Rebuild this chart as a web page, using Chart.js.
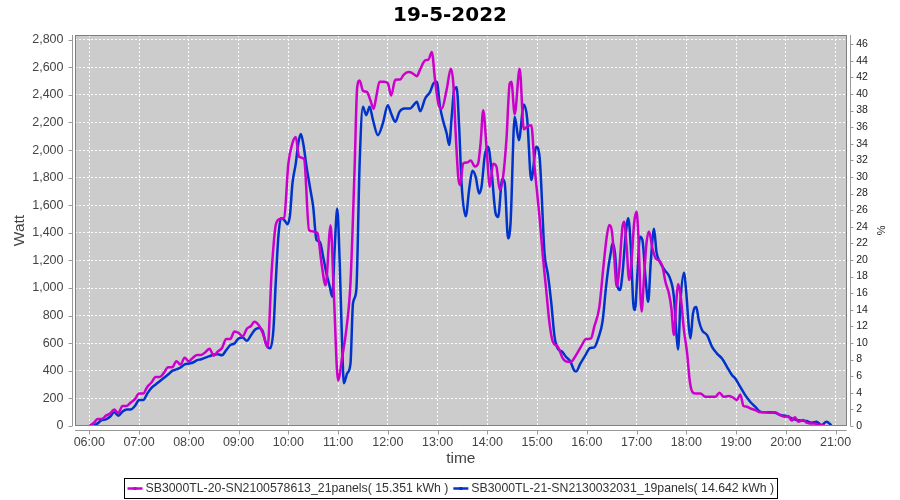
<!DOCTYPE html>
<html><head><meta charset="utf-8">
<script src="https://cdn.jsdelivr.net/npm/chart.js@4.4.1/dist/chart.umd.min.js"></script>
<style>html,body{margin:0;padding:0;background:#fff;}#wrap{width:900px;height:500px;}</style>
</head><body><div id="wrap"><canvas id="c" width="900" height="500"></canvas></div>
<script>
const chartTitle = "19-5-2022";
const seriesNames = ["SB3000TL-20-SN2100578613_21panels( 15.351 kWh )", "SB3000TL-21-SN2130032031_19panels( 14.642 kWh )"];
const seriesColors = ["rgb(204,0,204)", "rgb(0,51,204)"];
const xAxisTitle = "time";
const leftAxisTitle = "Watt";
const rightAxisTitle = "%";

const timesA = ["06:00","06:05","06:10","06:15","06:20","06:25","06:30","06:35","06:40","06:45","06:50","06:55",
"07:00","07:05","07:10","07:15","07:20","07:25","07:30","07:35","07:40","07:45","07:50","07:55",
"08:00","08:05","08:10","08:15","08:20","08:25","08:30","08:35","08:40","08:45","08:50","08:55",
"09:00","09:05","09:10","09:15","09:19","09:25","09:30","09:35","09:40","09:45","09:50","09:55",
"10:00","10:05","10:09","10:13","10:19","10:25","10:30","10:35","10:40","10:45","10:51","10:55",
"11:00","11:05","11:10","11:15","11:20","11:23","11:26","11:30","11:35","11:39","11:43","11:46","11:50","11:55",
"12:00","12:04","12:09","12:15","12:19","12:25","12:29","12:35","12:39","12:45","12:49","12:53","12:57",
"13:01","13:05","13:11","13:16","13:19","13:22","13:25","13:27","13:31","13:36","13:40","13:45","13:49","13:52","13:55","13:59",
"14:03","14:07","14:11","14:15","14:19","14:23","14:27","14:29","14:33","14:39","14:44","14:48","14:53","14:57",
"15:03","15:07","15:11","15:15","15:19","15:25","15:31","15:37","15:41","15:47","15:53","15:59",
"16:05","16:09","16:15","16:20","16:24","16:27","16:30","16:33","16:36","16:39","16:43","16:45","16:48","16:51","16:54","16:57",
"17:00","17:02","17:06","17:09","17:12","17:15","17:19","17:23","17:27","17:31","17:35","17:39","17:42","17:45","17:48","17:50","17:53","17:57",
"18:01","18:04","18:07","18:11","18:17","18:23","18:29","18:35","18:40","18:45","18:51","18:56",
"19:01","19:05","19:09","19:13","19:17","19:23","19:29","19:35","19:41","19:47","19:53","19:59",
"20:03","20:07","20:11","20:15","20:21","20:25","20:29","20:35","20:41","20:47"];
const wattA = [0,20,50,50,75,90,120,95,145,145,170,195,
235,235,285,315,355,355,385,425,425,470,445,495,
470,495,515,515,535,560,510,540,565,630,630,685,
675,650,705,725,755,725,660,570,1130,1460,1500,1510,
1900,2050,2095,1950,1935,1420,1410,1400,1180,1020,1455,940,
330,500,700,1040,1880,2450,2505,2430,2420,2360,2300,2385,2495,2495,
2485,2395,2510,2512,2545,2565,2560,2535,2585,2650,2655,2710,2505,
2335,2300,2440,2590,2480,2100,1800,1746,1903,1910,1925,1880,1905,2060,2289,2024,
1734,1900,1880,1710,1806,2072,2483,2495,2260,2590,2150,2170,2180,1880,
1510,1227,985,744,610,575,490,466,466,514,575,630,
635,720,860,1155,1372,1457,1420,1227,1010,1131,1445,1481,1300,1058,1203,1469,
1553,1396,830,1080,1330,1410,1290,1215,1200,1160,1040,960,850,660,910,1030,950,700,
525,333,250,236,236,212,212,212,241,212,217,207,
188,229,145,140,128,116,99,99,96,99,80,67,
72,39,63,31,43,24,19,19,5,5];

const timesB = ["06:05","06:10","06:15","06:20","06:25","06:30","06:35","06:40","06:45","06:50","06:55",
"07:00","07:05","07:10","07:15","07:20","07:25","07:30","07:35","07:40","07:45","07:50","07:55",
"08:00","08:05","08:10","08:15","08:20","08:25","08:30","08:35","08:40","08:45","08:50","08:55",
"09:00","09:05","09:10","09:15","09:20","09:25","09:29","09:33","09:38","09:42","09:45","09:48","09:51","09:55","09:59",
"10:02","10:05","10:09","10:12","10:15","10:18","10:22","10:26","10:30","10:34","10:38","10:42","10:46","10:50","10:53","10:56","10:59",
"11:02","11:05","11:07","11:11","11:15","11:18","11:22","11:26","11:30","11:34","11:38","11:42","11:48","11:54",
"12:00","12:04","12:09","12:14","12:20","12:27","12:31","12:35","12:39","12:45","12:51","12:55","12:59",
"13:03","13:07","13:11","13:14","13:17","13:20","13:23","13:26","13:29","13:34","13:38","13:42","13:46","13:50","13:53","13:57",
"14:01","14:05","14:10","14:13","14:18","14:21","14:25","14:28","14:33","14:38","14:44","14:48","14:53","14:59",
"15:03","15:09","15:13","15:17","15:21","15:25","15:30","15:35","15:40","15:45","15:47","15:52","15:58",
"16:04","16:09","16:14","16:19","16:23","16:26","16:29","16:31","16:34","16:37","16:40","16:43","16:47","16:50","16:53","16:56","16:58",
"17:01","17:04","17:07","17:11","17:14","17:17","17:21","17:24","17:28","17:34","17:40","17:45","17:48","17:50","17:53","17:57",
"18:00","18:03","18:05","18:08","18:12","18:15","18:19","18:25","18:31","18:37","18:43","18:49","18:55","18:59",
"19:05","19:11","19:17","19:23","19:29","19:35","19:41","19:47","19:53",
"20:01","20:07","20:13","20:19","20:25","20:31","20:37","20:43","20:49","20:55"];
const wattB = [0,19,43,48,67,99,75,104,120,120,145,
188,188,236,277,301,325,349,373,400,410,424,446,
453,460,477,484,496,506,518,520,513,549,586,598,
634,641,617,658,699,711,689,598,563,695,1058,1372,1505,1493,1463,
1529,1758,1903,2048,2116,2048,1879,1734,1589,1348,1336,1227,1106,1009,937,1299,1577,
1179,575,309,382,454,890,985,1903,2314,2253,2314,2220,2108,2193,
2325,2265,2205,2277,2301,2301,2325,2350,2282,2374,2422,2483,2495,
2313,2205,2120,2036,2241,2434,2455,2169,1750,1520,1710,1850,1806,1686,1734,1963,
2024,1855,1540,1515,1790,1760,1360,1470,2242,2072,2330,2230,1783,2024,
1950,1250,1100,900,650,560,540,500,470,400,395,450,510,
565,570,640,760,1000,1150,1260,1324,1251,1010,986,1106,1396,1505,1300,889,841,
1106,1372,1348,1058,900,1179,1430,1260,1190,1128,1075,935,670,555,911,1110,
960,718,634,815,863,766,694,658,574,525,489,429,369,345,
284,224,176,140,104,99,99,96,80,
72,55,43,39,36,24,31,7,31,5];

const xRange = [5.7126, 21.223];
const leftRange = [0, 2834];
const rightRange = [0, 47.1];
const leftTicks = [0,200,400,600,800,1000,1200,1400,1600,1800,2000,2200,2400,2600,2800];
const rightTicks = [0,2,4,6,8,10,12,14,16,18,20,22,24,26,28,30,32,34,36,38,40,42,44,46];
const xTicks = [6,7,8,9,10,11,12,13,14,15,16,17,18,19,20,21];

const toH = s => { const p = s.split(':').map(Number); return p[0] + p[1] / 60; };
const fmtH = v => { const h = Math.floor(v + 1e-6); const m = Math.round((v - h) * 60); return String(h).padStart(2, '0') + ':' + String(m).padStart(2, '0'); };

const TICK_FONT = {family: 'Liberation Sans', size: 12.5};
const TICK_COLOR = '#444';

const plotDecor = {
  id: 'plotDecor',
  beforeDraw(chart) {
    const {ctx, chartArea: a} = chart;
    ctx.save();
    ctx.fillStyle = '#cccccc';
    ctx.fillRect(a.left, a.top, a.right - a.left, a.bottom - a.top);
    ctx.restore();
  },
  afterDraw(chart) {
    const {ctx, chartArea: a, scales} = chart;
    ctx.save();
    ctx.strokeStyle = '#808080';
    ctx.lineWidth = 1;
    ctx.strokeRect(Math.round(a.left) + 0.5, Math.round(a.top) + 0.5, Math.round(a.right - a.left) - 1, Math.round(a.bottom - a.top) - 1);
    ctx.strokeStyle = '#999';
    const lx = Math.round(a.left) - 2.5, by = Math.round(a.bottom) + 4.5, rx = Math.round(a.right) + 3.5;
    ctx.beginPath();
    ctx.moveTo(lx, a.top); ctx.lineTo(lx, a.bottom);
    ctx.moveTo(a.left, by); ctx.lineTo(a.right, by);
    ctx.moveTo(rx, a.top); ctx.lineTo(rx, a.bottom);
    scales.y.ticks.forEach(t => { const y = Math.round(scales.y.getPixelForValue(t.value)) + 0.5; ctx.moveTo(lx - 4, y); ctx.lineTo(lx, y); });
    scales.y2.ticks.forEach(t => { const y = Math.round(scales.y2.getPixelForValue(t.value)) + 0.5; ctx.moveTo(rx, y); ctx.lineTo(rx + 3, y); });
    scales.x.ticks.forEach(t => { const x = Math.round(scales.x.getPixelForValue(t.value)) + 0.5; ctx.moveTo(x, by); ctx.lineTo(x, by + 4); });
    ctx.stroke();

    ctx.font = '12.3px "Liberation Sans"';
    ctx.textBaseline = 'middle';
    const sym = 15, gap = 3, itemGap = 5, pad = 3;
    const w = seriesNames.map(n => ctx.measureText(n).width);
    const total = sym + gap + w[0] + itemGap + sym + gap + w[1];
    const boxW = total + 2 * pad;
    const bx = Math.round(450 - boxW / 2) + 0.5, byy = 478.5, bh = 20;
    ctx.strokeStyle = '#000';
    ctx.lineWidth = 1;
    ctx.strokeRect(bx, byy, Math.round(boxW), bh);
    let x = bx + pad;
    const cy = byy + bh / 2;
    seriesNames.forEach((n, i) => {
      ctx.strokeStyle = seriesColors[i];
      ctx.lineWidth = 2.5;
      ctx.beginPath(); ctx.moveTo(x, cy); ctx.lineTo(x + sym, cy); ctx.stroke();
      ctx.fillStyle = seriesColors[i];
      ctx.fillRect(x + sym / 2 - 1.5, cy - 1.5, 3, 3);
      ctx.fillStyle = '#333';
      ctx.fillText(n, x + sym + gap, cy + 0.5);
      x += sym + gap + w[i] + itemGap;
    });
    ctx.restore();
  }
};

const mk = (times, vals) => times.map((t, i) => ({x: toH(t), y: vals[i]}));
const setTicks = list => s => { s.ticks = list.map(v => ({value: v})); };

new Chart(document.getElementById('c'), {
  type: 'line',
  data: {
    datasets: [
      {label: seriesNames[0], data: mk(timesA, wattA), borderColor: seriesColors[0], backgroundColor: seriesColors[0], borderWidth: 2.5, pointRadius: 0, cubicInterpolationMode: 'monotone', fill: false, yAxisID: 'y'},
      {label: seriesNames[1], data: mk(timesB, wattB), borderColor: seriesColors[1], backgroundColor: seriesColors[1], borderWidth: 2.5, pointRadius: 0, cubicInterpolationMode: 'monotone', fill: false, yAxisID: 'y'}
    ]
  },
  options: {
    responsive: false, animation: false, devicePixelRatio: 1,
    layout: {padding: {left: 0, right: 0, top: 0, bottom: 30}},
    plugins: {
      legend: {display: false},
      tooltip: {enabled: false},
      title: {display: true, text: chartTitle, color: '#000', font: {family: 'DejaVu Sans', size: 20, weight: 'bold'}, padding: {top: 4, bottom: 7}}
    },
    scales: {
      x: {
        type: 'linear', min: xRange[0], max: xRange[1],
        afterBuildTicks: setTicks(xTicks),
        afterFit: s => { s.height = 44; },
        ticks: {autoSkip: false, maxRotation: 0, callback: v => fmtH(v), font: TICK_FONT, color: TICK_COLOR, padding: 9},
        grid: {color: 'rgba(255,255,255,0.95)', lineWidth: 1, drawTicks: false},
        border: {display: false, dash: [2, 2]},
        title: {display: true, text: xAxisTitle, color: '#444', font: {family: 'Liberation Sans', size: 15.5}, padding: {top: 0, bottom: 1.5}}
      },
      y: {
        type: 'linear', position: 'left', min: leftRange[0], max: leftRange[1],
        afterBuildTicks: setTicks(leftTicks),
        afterFit: s => { s.width = 75; },
        ticks: {autoSkip: false, callback: v => v.toLocaleString('en-US'), font: TICK_FONT, color: TICK_COLOR, padding: 11.5},
        grid: {color: 'rgba(255,255,255,0.95)', lineWidth: 1, drawTicks: false},
        border: {display: false, dash: [2, 2]},
        title: {display: true, text: leftAxisTitle, color: '#444', font: {family: 'Liberation Sans', size: 15.5}, padding: {top: 10.5, bottom: 0}}
      },
      y2: {
        type: 'linear', position: 'right', min: rightRange[0], max: rightRange[1],
        afterBuildTicks: setTicks(rightTicks),
        afterFit: s => { s.width = 53.3; },
        ticks: {autoSkip: false, font: {family: 'Liberation Sans', size: 10.5}, color: '#222', padding: 9.5},
        grid: {drawOnChartArea: false, drawTicks: false},
        border: {display: false},
        title: {display: true, text: rightAxisTitle, color: '#222', font: {family: 'Liberation Sans', size: 11}, padding: {top: 13, bottom: 0}}
      }
    }
  },
  plugins: [plotDecor]
});
</script>
</body></html>
